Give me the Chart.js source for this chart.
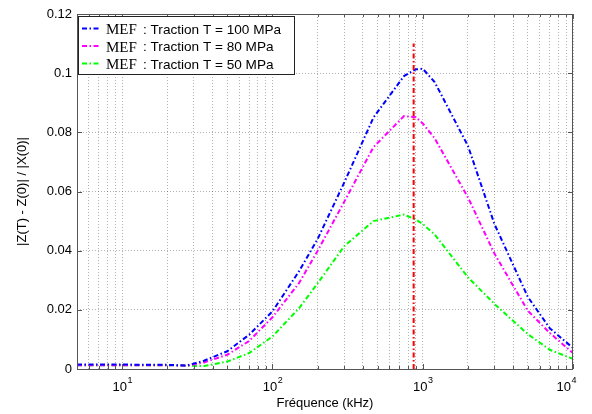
<!DOCTYPE html>
<html>
<head>
<meta charset="utf-8">
<script src="https://cdn.jsdelivr.net/npm/chart.js@4"></script>
<style>
  body { margin: 0; background: #fff; }
</style>
</head>
<body>
<canvas id="c" width="592" height="414"></canvas>
<script>
// frequences (kHz) et amplitudes
const freqs = [5, 10, 20, 27, 35, 50, 70, 100, 150, 200, 300, 470, 750, 900, 1000, 1200, 2000, 3000, 5000, 7000, 10000];
const t100 = [0.0015, 0.0015, 0.0014, 0.0012, 0.0028, 0.006, 0.0116, 0.0195, 0.033, 0.044, 0.063, 0.085, 0.099, 0.1013, 0.1015, 0.097, 0.0754, 0.049, 0.0244, 0.0138, 0.0071];
const t80 = [0.0013, 0.0013, 0.0013, 0.0011, 0.0022, 0.0048, 0.0095, 0.0175, 0.029, 0.040, 0.0565, 0.075, 0.0855, 0.0851, 0.083, 0.078, 0.058, 0.039, 0.0197, 0.0122, 0.0054];
const t50 = [0.0013, 0.0013, 0.0013, 0.0011, 0.0010, 0.0025, 0.0054, 0.011, 0.0205, 0.029, 0.0415, 0.050, 0.0522, 0.0505, 0.049, 0.0455, 0.031, 0.022, 0.0118, 0.0065, 0.0034];
const resoFreq = [870, 870];
const resoVal = [0, 0.11];

const seriesNames = ['Traction T = 100 MPa', 'Traction T = 80 MPa', 'Traction T = 50 MPa'];
const seriesColors = ['#0000ff', '#ff00ff', '#00ff00'];
const yTicks = [0, 0.02, 0.04, 0.06, 0.08, 0.1, 0.12];
const xMajor = [10, 100, 1000, 10000];

const dashDot = [5, 2.5, 1.5, 2.5];
const sans = 'Liberation Sans, Arial, sans-serif';
const gridCol = 'rgba(0,0,0,0.3)';

const xTickVals = [];
for (let dec = 1; dec <= 1000; dec *= 10) {
  for (let m = 1; m <= 9; m++) {
    const v = m * dec;
    if (v >= 5) xTickVals.push(v);
  }
}
xTickVals.push(10000);

function pts(xs, ys) {
  return xs.map((f, i) => ({ x: f, y: ys[i] }));
}

const series = [t100, t80, t50].map((vals, i) => ({
  label: seriesNames[i],
  data: pts(freqs, vals),
  borderColor: seriesColors[i],
  borderWidth: 2,
  borderDash: dashDot,
  pointRadius: 0,
  tension: 0,
  order: 2
}));

series.push({
  label: 'resonance',
  data: pts(resoFreq, resoVal),
  borderColor: '#ff0000',
  borderWidth: 2,
  borderDash: dashDot,
  pointRadius: 0,
  order: 1
});

// cadre, petits traits, etiquettes 10^n, titres et legende
const decor = {
  id: 'decor',
  afterDraw(chart) {
    const { ctx, chartArea: a, scales: { x, y } } = chart;
    ctx.save();
    ctx.strokeStyle = '#555';
    ctx.lineWidth = 1;
    ctx.strokeRect(a.left + 0.5, a.top + 0.5, a.right - a.left - 1, a.bottom - a.top);

    ctx.beginPath();
    yTicks.forEach(v => {
      const py = Math.round(y.getPixelForValue(v)) + 0.5;
      ctx.moveTo(a.left, py); ctx.lineTo(a.left + 5, py);
      ctx.moveTo(a.right - 5, py); ctx.lineTo(a.right, py);
    });
    xTickVals.forEach(v => {
      const px = Math.round(x.getPixelForValue(v)) + 0.5;
      const len = xMajor.includes(v) ? 5 : 3;
      ctx.moveTo(px, a.bottom); ctx.lineTo(px, a.bottom - len);
      ctx.moveTo(px, a.top); ctx.lineTo(px, a.top + len);
    });
    ctx.stroke();

    ctx.fillStyle = '#000';
    ctx.textBaseline = 'alphabetic';
    xMajor.forEach(v => {
      const e = String(Math.round(Math.log10(v)));
      ctx.font = '13px ' + sans;
      const w1 = ctx.measureText('10').width;
      ctx.font = '9px ' + sans;
      const w2 = ctx.measureText(e).width;
      let left = x.getPixelForValue(v) - (w1 + w2) / 2;
      if (left + w1 + w2 > a.right + 3) left = a.right + 3 - w1 - w2;
      ctx.textAlign = 'left';
      ctx.font = '13px ' + sans;
      ctx.fillText('10', left, 391);
      ctx.font = '9px ' + sans;
      ctx.fillText(e, left + w1 + 0.5, 383);
    });

    ctx.font = '13px ' + sans;
    ctx.textAlign = 'center';
    ctx.textBaseline = 'middle';
    ctx.fillText('Fréquence (kHz)', (a.left + a.right) / 2, 403);
    ctx.save();
    ctx.translate(22, (a.top + a.bottom) / 2);
    ctx.rotate(-Math.PI / 2);
    ctx.fillText('|Z(T) - Z(0)| / |X(0)|', 0, 0);
    ctx.restore();

    // legende
    const lx = 78, ly = 16, lw = 216, lh = 58;
    ctx.fillStyle = '#fff';
    ctx.fillRect(lx, ly, lw, lh);
    ctx.strokeStyle = '#222';
    ctx.strokeRect(lx + 0.5, ly + 0.5, lw, lh);
    seriesNames.forEach((name, i) => {
      const ry = 28.5 + i * 17.5;
      ctx.strokeStyle = seriesColors[i];
      ctx.lineWidth = 2;
      ctx.setLineDash(dashDot);
      ctx.beginPath();
      ctx.moveTo(82, ry); ctx.lineTo(100, ry);
      ctx.stroke();
      ctx.setLineDash([]);
      ctx.fillStyle = '#000';
      ctx.textAlign = 'left';
      ctx.textBaseline = 'alphabetic';
      ctx.font = '15px Liberation Serif, Times New Roman, serif';
      ctx.fillText('MEF', 106, ry + 5.5);
      ctx.font = '13.6px ' + sans;
      ctx.fillText(': ' + name, 143, ry + 5);
    });
    ctx.restore();
  }
};

new Chart(document.getElementById('c'), {
  type: 'line',
  data: { datasets: series },
  options: {
    responsive: false,
    animation: false,
    devicePixelRatio: 1,
    layout: { padding: { top: 14, right: 19, left: 0, bottom: 0 } },
    plugins: { legend: { display: false }, tooltip: { enabled: false } },
    scales: {
      x: {
        type: 'logarithmic',
        min: 5,
        max: 10000,
        afterBuildTicks: s => { s.ticks = xTickVals.map(v => ({ value: v })); },
        afterFit: s => { s.height = 45; },
        ticks: { callback: () => '', autoSkip: false, maxRotation: 0 },
        grid: { color: gridCol, drawTicks: false },
        border: { display: false, dash: [1, 2] }
      },
      y: {
        min: 0,
        max: 0.12,
        afterBuildTicks: s => { s.ticks = yTicks.map(v => ({ value: v })); },
        afterFit: s => { s.width = 77; },
        ticks: {
          padding: 5,
          color: '#000',
          font: { family: sans, size: 13 },
          callback: v => String(Number(v.toFixed(2)))
        },
        grid: { color: gridCol, drawTicks: false },
        border: { display: false, dash: [1, 2] }
      }
    }
  },
  plugins: [decor]
});
</script>
</body>
</html>
